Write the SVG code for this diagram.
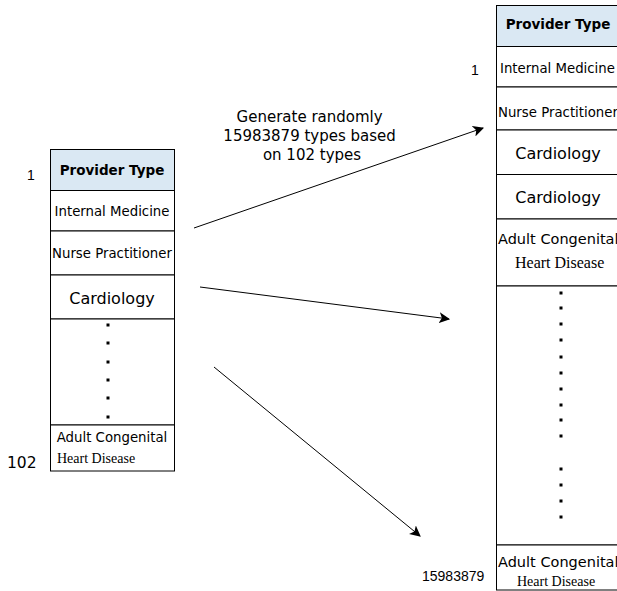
<svg xmlns="http://www.w3.org/2000/svg" width="617" height="591" viewBox="0 0 617 591">
<defs>
<style>
.cell{fill:#ffffff;stroke:#000000;stroke-width:1}
.head{fill:#dae8f3;stroke:#000000;stroke-width:1}
.sans{font-family:"DejaVu Sans",Verdana,sans-serif;fill:#000}
.b{font-weight:bold;font-size:13.5px}
.t{font-size:13.3px}
.c{font-size:16px}
.serif{font-family:"Liberation Serif","Times New Roman",serif;fill:#000}
.num{font-family:"Liberation Sans",Arial,sans-serif;fill:#000;font-size:14px}
.conn{stroke:#000;stroke-width:1;fill:none}
.dot{fill:#000}
</style>
<marker id="arr" viewBox="0 0 10 10" refX="9" refY="5" markerWidth="11" markerHeight="11" markerUnits="userSpaceOnUse" orient="auto">
<path d="M0,0 L10,5 L0,10 L2.5,5 z" fill="#000"/>
</marker>
</defs>
<rect width="617" height="591" fill="#ffffff"/>

<g id="left-table">
<rect class="head" x="50.5" y="149.5" width="124" height="41"/>
<text class="sans b" x="112" y="175" text-anchor="middle">Provider Type</text>
<rect class="cell" x="50.5" y="190.5" width="124" height="40.5"/>
<text class="sans t" x="112" y="215.5" text-anchor="middle">Internal Medicine</text>
<rect class="cell" x="50.5" y="231" width="124" height="44"/>
<text class="sans t" x="112" y="257.5" text-anchor="middle">Nurse Practitioner</text>
<rect class="cell" x="50.5" y="275" width="124" height="44"/>
<text class="sans c" x="112" y="304" text-anchor="middle">Cardiology</text>
<rect class="cell" x="50.5" y="319" width="124" height="106"/>
<g class="dot">
<rect x="106.5" y="323.5" width="3" height="3"/>
<rect x="106.5" y="341.5" width="3" height="3"/>
<rect x="106.5" y="360.5" width="3" height="3"/>
<rect x="106.5" y="378.5" width="3" height="3"/>
<rect x="106.5" y="396.5" width="3" height="3"/>
<rect x="106.5" y="415.5" width="3" height="3"/>
</g>
<rect class="cell" x="50.5" y="425" width="124" height="46"/>
<text class="sans t" x="112" y="441.5" text-anchor="middle">Adult Congenital</text>
<text class="serif" x="57" y="462.5" font-size="14">Heart Disease</text>
</g>

<g id="left-labels">
<text class="num" x="27" y="180" font-size="13">1</text>
<text class="sans" x="7" y="468" font-size="15.5">102</text>
</g>

<g id="right-table">
<rect class="head" x="496.5" y="5.5" width="130" height="41"/>
<text class="sans b" x="558" y="29" text-anchor="middle">Provider Type</text>
<rect class="cell" x="496.5" y="46.5" width="130" height="40.5"/>
<text class="sans t" x="500" y="72.5">Internal Medicine</text>
<rect class="cell" x="496.5" y="87" width="130" height="43"/>
<text class="sans t" x="498" y="116.5">Nurse Practitioner</text>
<rect class="cell" x="496.5" y="130" width="130" height="44.5"/>
<text class="sans c" x="558" y="159" text-anchor="middle">Cardiology</text>
<rect class="cell" x="496.5" y="174.5" width="130" height="44.5"/>
<text class="sans c" x="558" y="202.5" text-anchor="middle">Cardiology</text>
<rect class="cell" x="496.5" y="219" width="130" height="67"/>
<text class="sans" x="498" y="244" font-size="14.5">Adult Congenital</text>
<text class="serif" x="515" y="268" font-size="16">Heart Disease</text>
<rect class="cell" x="496.5" y="286" width="130" height="259"/>
<g class="dot">
<rect x="559.5" y="291.5" width="3" height="3"/>
<rect x="559.5" y="306.5" width="3" height="3"/>
<rect x="559.5" y="322.5" width="3" height="3"/>
<rect x="559.5" y="338.5" width="3" height="3"/>
<rect x="559.5" y="355.5" width="3" height="3"/>
<rect x="559.5" y="371.5" width="3" height="3"/>
<rect x="559.5" y="387.5" width="3" height="3"/>
<rect x="559.5" y="403.5" width="3" height="3"/>
<rect x="559.5" y="418.5" width="3" height="3"/>
<rect x="559.5" y="434.5" width="3" height="3"/>
<rect x="559.5" y="467.5" width="3" height="3"/>
<rect x="559.5" y="483.5" width="3" height="3"/>
<rect x="559.5" y="499.5" width="3" height="3"/>
<rect x="559.5" y="515.5" width="3" height="3"/>
</g>
<rect class="cell" x="496.5" y="545" width="130" height="45"/>
<text class="sans" x="498" y="567" font-size="14.5">Adult Congenital</text>
<text class="serif" x="517" y="586" font-size="14">Heart Disease</text>
</g>

<g id="right-labels">
<text class="num" x="471" y="75" font-size="13">1</text>
<text class="num" x="422" y="581">15983879</text>
</g>

<g id="connectors">
<line class="conn" x1="194" y1="228" x2="483" y2="128" marker-end="url(#arr)"/>
<line class="conn" x1="200" y1="287" x2="449" y2="319" marker-end="url(#arr)"/>
<line class="conn" x1="214" y1="367" x2="420" y2="536" marker-end="url(#arr)"/>
<text class="sans" font-size="15" text-anchor="middle">
<tspan x="312" y="122">Generate randomly</tspan>
<tspan x="312" y="141">15983879 types based</tspan>
<tspan x="312" y="159.5">on 102 types</tspan>
</text>
</g>
</svg>
